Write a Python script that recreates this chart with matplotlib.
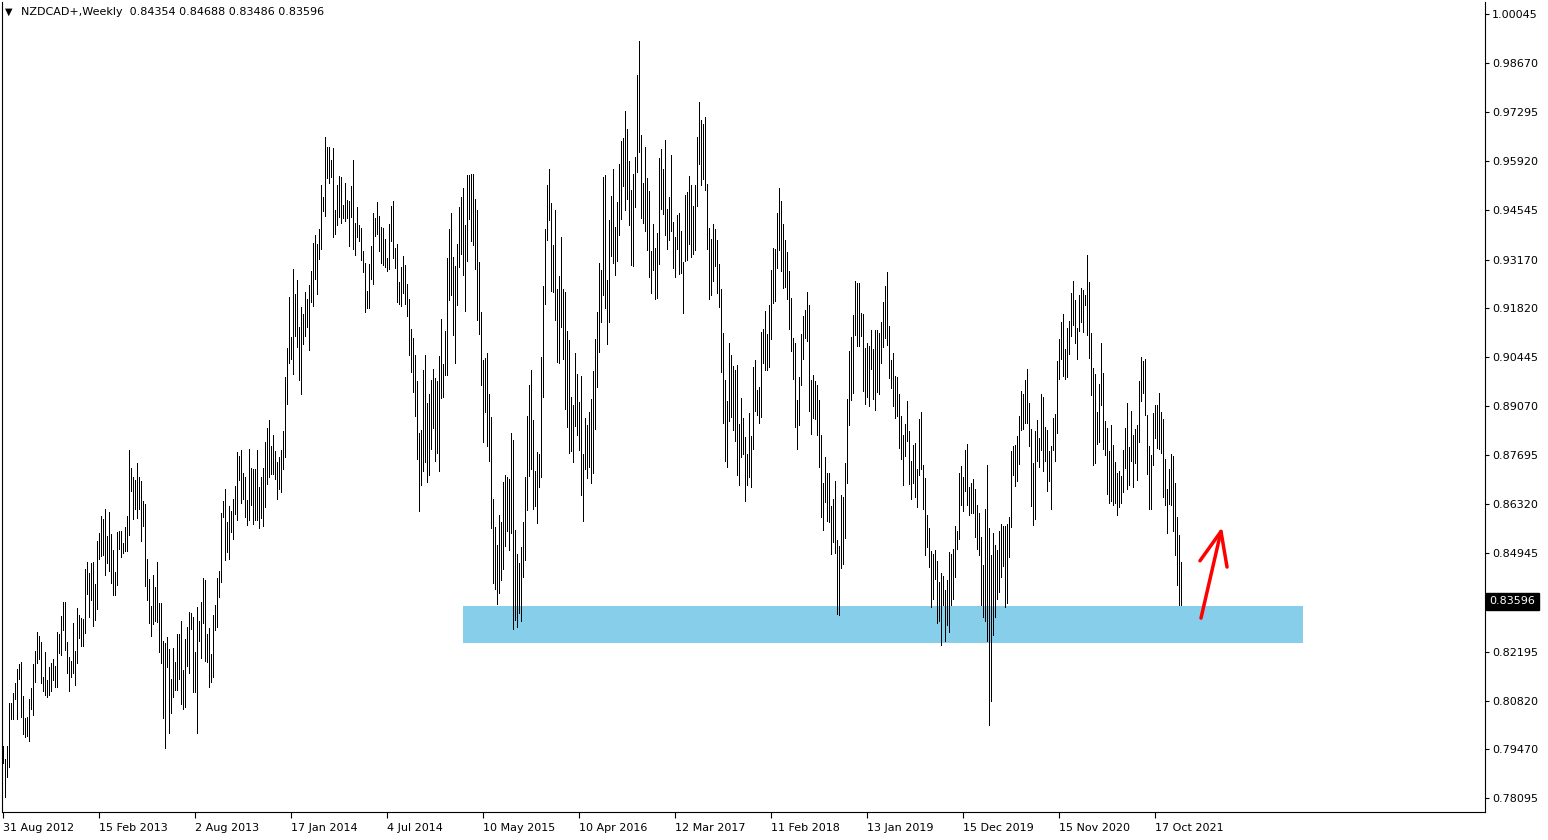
"""
NZDCAD weekly bar chart with support zone (MT4 style)
"""

import matplotlib
matplotlib.use('Agg')
import matplotlib.pyplot as plt
from matplotlib.patches import Rectangle

symbol = 'NZDCAD+,Weekly'
last_ohlc = [0.84354, 0.84688, 0.83486, 0.83596]

highs = [
    0.7955, 0.7919, 0.7955, 0.8075, 0.8075, 0.8103, 0.8131, 0.8170, 0.8184, 0.8190,
    0.8095, 0.8033, 0.8036, 0.8086, 0.8117, 0.8184, 0.8221, 0.8274, 0.8263, 0.8246,
    0.8148, 0.8218, 0.8140, 0.8176, 0.8187, 0.8198, 0.8179, 0.8274, 0.8268, 0.8319,
    0.8358, 0.8358, 0.8246, 0.8204, 0.8193, 0.8299, 0.8221, 0.8341, 0.8322, 0.8313,
    0.8310, 0.8450, 0.8470, 0.8439, 0.8467, 0.8470, 0.8408, 0.8529, 0.8551, 0.8599,
    0.8590, 0.8618, 0.8543, 0.8610, 0.8548, 0.8504, 0.8442, 0.8554, 0.8557, 0.8557,
    0.8523, 0.8568, 0.8599, 0.8784, 0.8733, 0.8708, 0.8700, 0.8747, 0.8708, 0.8697,
    0.8641, 0.8632, 0.8478, 0.8422, 0.8347, 0.8434, 0.8400, 0.8470, 0.8355, 0.8355,
    0.8249, 0.8243, 0.8260, 0.8226, 0.8142, 0.8229, 0.8190, 0.8268, 0.8268, 0.8305,
    0.8168, 0.8254, 0.8288, 0.8330, 0.8327, 0.8316, 0.8218, 0.8344, 0.8305, 0.8358,
    0.8425, 0.8420, 0.8268, 0.8285, 0.8212, 0.8322, 0.8350, 0.8425, 0.8445, 0.8607,
    0.8641, 0.8674, 0.8582, 0.8627, 0.8613, 0.8646, 0.8683, 0.8778, 0.8767, 0.8784,
    0.8719, 0.8708, 0.8644, 0.8786, 0.8733, 0.8730, 0.8730, 0.8784, 0.8680, 0.8708,
    0.8733, 0.8806, 0.8845, 0.8868, 0.8795, 0.8826, 0.8781, 0.8750, 0.8764, 0.8784,
    0.8837, 0.8988, 0.9069, 0.9212, 0.9100, 0.9290, 0.9220, 0.9260, 0.9128, 0.9184,
    0.9164, 0.9226, 0.9206, 0.9246, 0.9285, 0.9363, 0.9386, 0.9360, 0.9402, 0.9526,
    0.9492, 0.9660, 0.9632, 0.9632, 0.9596, 0.9629, 0.9456, 0.9526, 0.9551, 0.9548,
    0.9470, 0.9531, 0.9484, 0.9481, 0.9523, 0.9596, 0.9419, 0.9464, 0.9414, 0.9405,
    0.9341, 0.9307, 0.9229, 0.9304, 0.9355, 0.9447, 0.9433, 0.9478, 0.9439, 0.9408,
    0.9405, 0.9374, 0.9321, 0.9416, 0.9467, 0.9481, 0.9349, 0.9360, 0.9254, 0.9296,
    0.9327, 0.9302, 0.9248, 0.9206, 0.9122, 0.9097, 0.9050, 0.8977, 0.8831, 0.8840,
    0.9008, 0.9050, 0.8915, 0.8940, 0.8980, 0.9010, 0.8985, 0.8977, 0.9047, 0.9150,
    0.9024, 0.9117, 0.9321, 0.9402, 0.9447, 0.9324, 0.9299, 0.9360, 0.9464, 0.9492,
    0.9517, 0.9414, 0.9554, 0.9554, 0.9556, 0.9556, 0.9486, 0.9456, 0.9310, 0.9170,
    0.9036, 0.9041, 0.9055, 0.8940, 0.8876, 0.8646, 0.8568, 0.8518, 0.8602, 0.8582,
    0.8694, 0.8714, 0.8708, 0.8702, 0.8831, 0.8812, 0.8560, 0.8492, 0.8467, 0.8512,
    0.8582, 0.8708, 0.8879, 0.8966, 0.9008, 0.8868, 0.8725, 0.8778, 0.8772, 0.9044,
    0.9243, 0.9402, 0.9526, 0.9570, 0.9475, 0.9358, 0.9456, 0.9234, 0.9271, 0.9380,
    0.9234, 0.9226, 0.9117, 0.9092, 0.8932, 0.8910, 0.9055, 0.8996, 0.8918, 0.8991,
    0.8772, 0.8873, 0.8854, 0.8890, 0.8926, 0.9005, 0.9094, 0.9170, 0.9307, 0.9288,
    0.9548, 0.9554, 0.9260, 0.9428, 0.9495, 0.9570, 0.9408, 0.9478, 0.9584, 0.9649,
    0.9657, 0.9733, 0.9682, 0.9593, 0.9512, 0.9556, 0.9604, 0.9834, 0.9929, 0.9666,
    0.9531, 0.9632, 0.9545, 0.9509, 0.9341, 0.9416, 0.9349, 0.9391, 0.9601, 0.9626,
    0.9570, 0.9652, 0.9458, 0.9492, 0.9610, 0.9422, 0.9380, 0.9442, 0.9447, 0.9397,
    0.9310, 0.9498, 0.9506, 0.9551, 0.9526, 0.9467, 0.9526, 0.9660, 0.9758, 0.9708,
    0.9696, 0.9716, 0.9528, 0.9405, 0.9374, 0.9416, 0.9402, 0.9372, 0.9304, 0.9234,
    0.9111, 0.8980, 0.8921, 0.9083, 0.9050, 0.9019, 0.9008, 0.9022, 0.8856, 0.8929,
    0.8873, 0.8820, 0.8772, 0.8887, 0.8823, 0.9016, 0.9036, 0.8952, 0.8960, 0.9114,
    0.9122, 0.9173, 0.9108, 0.9190, 0.9288, 0.9349, 0.9346, 0.9447, 0.9517, 0.9481,
    0.9416, 0.9372, 0.9338, 0.9285, 0.9209, 0.9097, 0.9083, 0.8924, 0.8988, 0.9108,
    0.9159, 0.9176, 0.9226, 0.9190, 0.8980, 0.8994, 0.8977, 0.8966, 0.8924, 0.8826,
    0.8691, 0.8764, 0.8719, 0.8719, 0.8627, 0.8646, 0.8697, 0.8532, 0.8515, 0.8658,
    0.8652, 0.8747, 0.8926, 0.9061, 0.9100, 0.9162, 0.9257, 0.9251, 0.9251, 0.9167,
    0.9164, 0.9069, 0.9083, 0.9075, 0.9120, 0.9066, 0.9120, 0.9120, 0.9111, 0.9142,
    0.9198, 0.9243, 0.9282, 0.9131, 0.9036, 0.9055, 0.8991, 0.8988, 0.8940, 0.8879,
    0.8826, 0.8856, 0.8921, 0.8837, 0.8753, 0.8798, 0.8803, 0.8730, 0.8870, 0.8890,
    0.8742, 0.8705, 0.8602, 0.8565, 0.8501, 0.8492, 0.8504, 0.8473, 0.8414, 0.8439,
    0.8431, 0.8392, 0.8420, 0.8498, 0.8492, 0.8506, 0.8571, 0.8557, 0.8719, 0.8739,
    0.8708, 0.8784, 0.8800, 0.8680, 0.8691, 0.8702, 0.8674, 0.8630, 0.8607, 0.8540,
    0.8462, 0.8618, 0.8742, 0.8565, 0.8490, 0.8551, 0.8518, 0.8504, 0.8557, 0.8576,
    0.8571, 0.8571, 0.8576, 0.8596, 0.8781, 0.8795, 0.8798, 0.8823, 0.8879, 0.8949,
    0.8940, 0.8980, 0.9010, 0.8915, 0.8842, 0.8747, 0.8837, 0.8868, 0.8817, 0.8940,
    0.8932, 0.8848, 0.8840, 0.8781, 0.8795, 0.8873, 0.8884, 0.9033, 0.9094, 0.9142,
    0.9164, 0.9066, 0.9125, 0.9145, 0.9223, 0.9257, 0.9204, 0.9125, 0.9218, 0.9237,
    0.9232, 0.9218, 0.9330, 0.9254, 0.9111, 0.9013, 0.8996, 0.8890, 0.8968, 0.9083,
    0.8999, 0.8865, 0.8845, 0.8781, 0.8854, 0.8798, 0.8750, 0.8719, 0.8725, 0.8711,
    0.8784, 0.8845, 0.8915, 0.8792, 0.8893, 0.8826, 0.8842, 0.8854, 0.8977, 0.9044,
    0.9033, 0.9038, 0.8882, 0.8795, 0.8770, 0.8887, 0.8910, 0.8910, 0.8943, 0.8890,
    0.8870, 0.8758, 0.8674, 0.8730, 0.8772, 0.8767, 0.8691, 0.8596, 0.8546, 0.84688,
]

lows = [
    0.7907, 0.7812, 0.7868, 0.7896, 0.8030, 0.8030, 0.8086, 0.8030, 0.8142, 0.8036,
    0.7988, 0.7980, 0.7983, 0.7969, 0.8058, 0.8042, 0.8134, 0.8187, 0.8198, 0.8131,
    0.8109, 0.8098, 0.8092, 0.8098, 0.8109, 0.8140, 0.8120, 0.8120, 0.8215, 0.8210,
    0.8280, 0.8224, 0.8159, 0.8109, 0.8148, 0.8159, 0.8126, 0.8187, 0.8257, 0.8235,
    0.8235, 0.8271, 0.8380, 0.8316, 0.8364, 0.8291, 0.8308, 0.8338, 0.8478, 0.8487,
    0.8490, 0.8434, 0.8467, 0.8445, 0.8411, 0.8378, 0.8378, 0.8406, 0.8506, 0.8484,
    0.8495, 0.8501, 0.8501, 0.8546, 0.8669, 0.8590, 0.8618, 0.8593, 0.8618, 0.8529,
    0.8571, 0.8403, 0.8364, 0.8299, 0.8263, 0.8296, 0.8305, 0.8302, 0.8218, 0.8187,
    0.8033, 0.7949, 0.8176, 0.7991, 0.8047, 0.8092, 0.8112, 0.8112, 0.8142, 0.8072,
    0.8058, 0.8064, 0.8179, 0.8159, 0.8282, 0.8106, 0.8106, 0.7991, 0.8249, 0.8201,
    0.8299, 0.8193, 0.8190, 0.8120, 0.8134, 0.8148, 0.8280, 0.8288, 0.8372, 0.8414,
    0.8596, 0.8476, 0.8498, 0.8478, 0.8554, 0.8534, 0.8604, 0.8588, 0.8700, 0.8635,
    0.8646, 0.8596, 0.8574, 0.8588, 0.8630, 0.8576, 0.8588, 0.8588, 0.8565, 0.8593,
    0.8571, 0.8624, 0.8688, 0.8708, 0.8716, 0.8716, 0.8702, 0.8646, 0.8674, 0.8666,
    0.8730, 0.8764, 0.8912, 0.9027, 0.9038, 0.8996, 0.9103, 0.9072, 0.8980, 0.8940,
    0.9080, 0.9103, 0.9128, 0.9064, 0.9198, 0.9187, 0.9262, 0.9220, 0.9318, 0.9346,
    0.9453, 0.9439, 0.9545, 0.9531, 0.9548, 0.9380, 0.9388, 0.9414, 0.9436, 0.9419,
    0.9433, 0.9425, 0.9433, 0.9355, 0.9436, 0.9346, 0.9330, 0.9380, 0.9369, 0.9316,
    0.9282, 0.9170, 0.9181, 0.9181, 0.9262, 0.9248, 0.9383, 0.9388, 0.9341, 0.9307,
    0.9302, 0.9296, 0.9285, 0.9290, 0.9369, 0.9321, 0.9293, 0.9198, 0.9192, 0.9187,
    0.9223, 0.9192, 0.9159, 0.9050, 0.9002, 0.8946, 0.8879, 0.8758, 0.8613, 0.8686,
    0.8725, 0.8750, 0.8694, 0.8714, 0.8786, 0.8845, 0.8753, 0.8775, 0.8725, 0.8929,
    0.8932, 0.8994, 0.8994, 0.9204, 0.9218, 0.9106, 0.9027, 0.9190, 0.9296, 0.9332,
    0.9274, 0.9173, 0.9313, 0.9430, 0.9369, 0.9358, 0.9290, 0.9148, 0.9108, 0.8966,
    0.8806, 0.8890, 0.8795, 0.8753, 0.8565, 0.8411, 0.8394, 0.8352, 0.8383, 0.8420,
    0.8450, 0.8515, 0.8557, 0.8504, 0.8551, 0.8282, 0.8308, 0.8288, 0.8327, 0.8305,
    0.8428, 0.8476, 0.8616, 0.8711, 0.8730, 0.8618, 0.8627, 0.8579, 0.8680, 0.8708,
    0.8932, 0.9192, 0.9372, 0.9428, 0.9229, 0.9226, 0.9148, 0.9030, 0.9027, 0.9128,
    0.9038, 0.8898, 0.8848, 0.8775, 0.8781, 0.8750, 0.8851, 0.8826, 0.8784, 0.8658,
    0.8585, 0.8730, 0.8705, 0.8736, 0.8691, 0.8719, 0.8842, 0.8960, 0.9058, 0.9142,
    0.9218, 0.9181, 0.9080, 0.9142, 0.9327, 0.9307, 0.9274, 0.9313, 0.9386, 0.9430,
    0.9523, 0.9456, 0.9486, 0.9414, 0.9302, 0.9299, 0.9464, 0.9562, 0.9618, 0.9433,
    0.9419, 0.9397, 0.9344, 0.9268, 0.9223, 0.9288, 0.9206, 0.9209, 0.9304, 0.9458,
    0.9444, 0.9386, 0.9346, 0.9372, 0.9397, 0.9293, 0.9268, 0.9346, 0.9276, 0.9279,
    0.9167, 0.9313, 0.9316, 0.9360, 0.9324, 0.9332, 0.9344, 0.9467, 0.9584, 0.9526,
    0.9542, 0.9512, 0.9346, 0.9206, 0.9218, 0.9257, 0.9299, 0.9223, 0.9184, 0.9002,
    0.8859, 0.8753, 0.8736, 0.8865, 0.8876, 0.8840, 0.8809, 0.8714, 0.8686, 0.8764,
    0.8772, 0.8641, 0.8686, 0.8708, 0.8680, 0.8786, 0.8893, 0.8882, 0.8859, 0.8876,
    0.9027, 0.9008, 0.9008, 0.9016, 0.9094, 0.9195, 0.9201, 0.9293, 0.9344, 0.9285,
    0.9237, 0.9240, 0.9206, 0.9122, 0.9061, 0.8982, 0.8848, 0.8786, 0.8854, 0.8966,
    0.9038, 0.9097, 0.9089, 0.8893, 0.8828, 0.8873, 0.8870, 0.8826, 0.8736, 0.8596,
    0.8560, 0.8638, 0.8585, 0.8582, 0.8492, 0.8526, 0.8495, 0.8324, 0.8322, 0.8453,
    0.8464, 0.8537, 0.8691, 0.8854, 0.8924, 0.8943, 0.9106, 0.9075, 0.9075, 0.9103,
    0.8949, 0.8912, 0.8932, 0.8907, 0.9010, 0.8926, 0.8896, 0.8946, 0.8940, 0.9027,
    0.9072, 0.9097, 0.9078, 0.8985, 0.8957, 0.8907, 0.8873, 0.8879, 0.8789, 0.8758,
    0.8686, 0.8767, 0.8809, 0.8688, 0.8646, 0.8691, 0.8652, 0.8624, 0.8714, 0.8730,
    0.8618, 0.8490, 0.8512, 0.8456, 0.8344, 0.8366, 0.8422, 0.8299, 0.8305, 0.8238,
    0.8350, 0.8249, 0.8294, 0.8274, 0.8350, 0.8366, 0.8428, 0.8506, 0.8534, 0.8630,
    0.8613, 0.8669, 0.8630, 0.8602, 0.8607, 0.8607, 0.8540, 0.8506, 0.8490, 0.8350,
    0.8316, 0.8305, 0.8249, 0.8014, 0.8081, 0.8266, 0.8316, 0.8366, 0.8386, 0.8428,
    0.8459, 0.8344, 0.8355, 0.8484, 0.8568, 0.8714, 0.8683, 0.8697, 0.8744, 0.8840,
    0.8842, 0.8859, 0.8859, 0.8795, 0.8627, 0.8574, 0.8590, 0.8753, 0.8736, 0.8784,
    0.8725, 0.8753, 0.8669, 0.8697, 0.8618, 0.8784, 0.8753, 0.8831, 0.8982, 0.9038,
    0.8991, 0.8982, 0.8988, 0.9052, 0.9103, 0.9134, 0.9083, 0.9038, 0.9117, 0.9142,
    0.9114, 0.9190, 0.9106, 0.9041, 0.8938, 0.8742, 0.8747, 0.8800, 0.8806, 0.8910,
    0.8786, 0.8770, 0.8660, 0.8635, 0.8641, 0.8630, 0.8635, 0.8602, 0.8624, 0.8635,
    0.8666, 0.8733, 0.8674, 0.8686, 0.8753, 0.8680, 0.8747, 0.8700, 0.8806, 0.8921,
    0.8943, 0.8882, 0.8716, 0.8618, 0.8618, 0.8742, 0.8817, 0.8789, 0.8786, 0.8775,
    0.8652, 0.8630, 0.8551, 0.8632, 0.8630, 0.8557, 0.8490, 0.8406, 0.8350, 0.83486,
]

date_labels = ['31 Aug 2012', '15 Feb 2013', '2 Aug 2013', '17 Jan 2014',
               '4 Jul 2014', '10 May 2015', '10 Apr 2016', '12 Mar 2017',
               '11 Feb 2018', '13 Jan 2019', '15 Dec 2019', '15 Nov 2020',
               '17 Oct 2021']
bars_per_label = 48

price_labels = ['1.00045', '0.98670', '0.97295', '0.95920', '0.94545',
                '0.93170', '0.91820', '0.90445', '0.89070', '0.87695',
                '0.86320', '0.84945', '0.82195', '0.80820', '0.79470',
                '0.78095']

# support zone (price band and bar range)
zone_low, zone_high = 0.8243, 0.8347
zone_start, zone_end = 230, 650

# hand drawn red arrow (bar index, price)
arrow_tail = (599, 0.8313)
arrow_tip = (609.5, 0.8568)


W, H = 1548, 840
fig = plt.figure(figsize=(W / 100, H / 100), dpi=100)
ax = fig.add_axes([2 / W, 28 / H, 1483 / W, 810 / H])

x = range(len(highs))
ax.vlines(x, lows, highs, colors='black', linewidth=0.6,
          antialiased=False, zorder=3)

# support zone
ax.add_patch(Rectangle((zone_start, zone_low), zone_end - zone_start,
                       zone_high - zone_low, facecolor='#87ceeb',
                       edgecolor='none', zorder=1))

# arrow
ax.annotate('', xy=arrow_tip, xytext=arrow_tail,
            arrowprops=dict(arrowstyle='->,head_length=1.2,head_width=0.5',
                            color='red', lw=2.5, mutation_scale=20,
                            shrinkA=0, shrinkB=0), zorder=4)

ax.set_xlim(-0.5, 741)
ax.set_ylim(0.77701, 1.00381)

# price axis on the right
ax.yaxis.tick_right()
ax.set_yticks([float(p) for p in price_labels])
ax.set_yticklabels(price_labels)
ax.tick_params(axis='y', direction='out', length=3, width=0.8, pad=2,
               labelsize=8, colors='black')

# date axis
ax.set_xticks(range(0, len(date_labels) * bars_per_label, bars_per_label))
ax.set_xticklabels(date_labels)
for lab in ax.get_xticklabels():
    lab.set_horizontalalignment('left')
ax.tick_params(axis='x', direction='out', length=4, width=0.8, pad=4,
               labelsize=8, colors='black')

for side in ['left', 'right', 'bottom']:
    ax.spines[side].set_linewidth(0.8)
    ax.spines[side].set_color('black')
ax.spines['top'].set_visible(False)

# current price box
close = last_ohlc[3]
ax.text(1.003, close, '%.5f' % close, transform=ax.get_yaxis_transform(),
        ha='left', va='center', fontsize=8, color='white',
        bbox=dict(boxstyle='square,pad=0.35', facecolor='black',
                  edgecolor='black'), zorder=5)

# header
fig.text(9 / W, 1 - 12 / H, '\u25bc', fontsize=7, ha='center', va='center')
header = '%s  %s' % (symbol, ' '.join('%.5f' % v for v in last_ohlc))
fig.text(21 / W, 1 - 12 / H, header, fontsize=8, ha='left', va='center')

fig.savefig('out.png', dpi=100, facecolor='white')
